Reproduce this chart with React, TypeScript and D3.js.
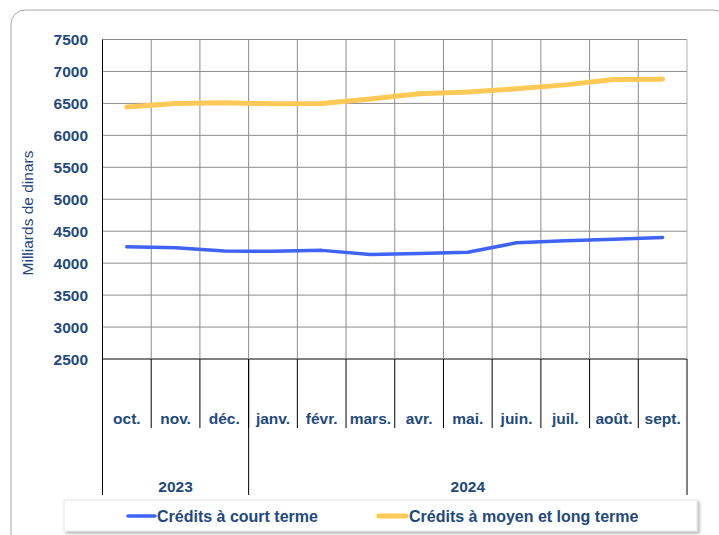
import React from "react";
import * as d3 from "d3";

const months = ["oct.", "nov.", "déc.", "janv.", "févr.", "mars.", "avr.", "mai.", "juin.", "juil.", "août.", "sept."];
const years = [
  { label: "2023", from: 0, to: 3 },
  { label: "2024", from: 3, to: 12 },
];
const courtTerme = [4255, 4240, 4190, 4185, 4200, 4136, 4150, 4170, 4318, 4349, 4375, 4401];
const moyenLongTerme = [6445, 6500, 6510, 6495, 6500, 6570, 6652, 6677, 6728, 6790, 6875, 6878];
const yTicks = [2500, 3000, 3500, 4000, 4500, 5000, 5500, 6000, 6500, 7000, 7500];

const TEXT = "#1F497D";
const FONT = "Liberation Sans, Arial, sans-serif";

export default function App() {
  const W = 719, H = 535;
  const left = 102.5, right = 687, top = 39.5, bottom = 359;
  const x = d3.scaleBand<number>().domain(d3.range(months.length)).range([left, right]);
  const y = d3.scaleLinear().domain([2500, 7500]).range([bottom, top]);
  const line = d3
    .line<number>()
    .x((_, i) => (x(i) as number) + x.bandwidth() / 2)
    .y((d) => y(d));
  const bw = x.bandwidth();

  return (
    <svg width={W} height={H} style={{ position: "absolute", left: 0, top: 0 }} fontFamily={FONT}>
      <defs>
        <filter id="sh" x="-5%" y="-30%" width="110%" height="160%">
          <feDropShadow dx="2" dy="2" stdDeviation="1.5" floodColor="#000" floodOpacity="0.3" />
        </filter>
      </defs>
      <rect x={0} y={0} width={W} height={H} fill="#fff" />
      <rect x={11} y={10} width={716} height={538} rx={14} fill="#fff" stroke="#a6a6a6" strokeWidth={1} />
      {/* grid */}
      {yTicks.map((t) => (
        <line key={"h" + t} x1={left} x2={right} y1={y(t)} y2={y(t)} stroke={t === 2500 ? "#000" : "#8c8c8c"} strokeWidth={1} />
      ))}
      {months.map((_, i) =>
        i === 0 ? null : (
          <line key={"v" + i} x1={x(i)} x2={x(i)} y1={top} y2={bottom} stroke="#8c8c8c" strokeWidth={1} />
        )
      )}
      <line x1={right} x2={right} y1={top} y2={bottom} stroke="#b0b0b0" strokeWidth={1} />
      <line x1={left} x2={left} y1={top} y2={bottom} stroke="#000" strokeWidth={1} />
      {/* y tick labels */}
      {yTicks.map((t) => (
        <text key={"t" + t} x={88} y={y(t)} dy="0.36em" textAnchor="end" fontSize={15.5} fontWeight="bold" fill={TEXT}>
          {t}
        </text>
      ))}
      <text transform={`translate(33,213) rotate(-90)`} textAnchor="middle" fontSize={15.5} fill={TEXT}>
        Milliards de dinars
      </text>
      {/* category axis */}
      {months.map((m, i) => (
        <g key={"m" + i}>
          <line x1={x(i)} x2={x(i)} y1={bottom} y2={428} stroke="#000" strokeWidth={1} />
          <text x={(x(i) as number) + bw / 2} y={424} textAnchor="middle" fontSize={15.5} fontWeight="bold" fill={TEXT}>
            {m}
          </text>
        </g>
      ))}
      <line x1={right} x2={right} y1={bottom} y2={495} stroke="#000" strokeWidth={1} />
      {years.map((yr) => {
        const x0 = x(yr.from) as number;
        const x1 = yr.to >= months.length ? right : (x(yr.to) as number);
        return (
          <g key={yr.label}>
            <line x1={x0} x2={x0} y1={bottom} y2={495} stroke="#000" strokeWidth={1} />
            <text x={(x0 + x1) / 2} y={492} textAnchor="middle" fontSize={15.5} fontWeight="bold" fill={TEXT}>
              {yr.label}
            </text>
          </g>
        );
      })}
      {/* lines */}
      <path d={line(moyenLongTerme) || ""} fill="none" stroke="#FFC957" strokeWidth={5} strokeLinejoin="round" strokeLinecap="round" />
      <path d={line(courtTerme) || ""} fill="none" stroke="#3F63F5" strokeWidth={3.5} strokeLinejoin="round" strokeLinecap="round" />
      {/* legend */}
      <rect x={64} y={500} width={633} height={31} fill="#fff" stroke="#e6e6e6" strokeWidth={1} filter="url(#sh)" />
      <line x1={128} x2={155} y1={516} y2={516} stroke="#3F63F5" strokeWidth={3.5} strokeLinecap="round" />
      <text x={157} y={516} dy="0.36em" fontSize={16} fontWeight="bold" fill={TEXT}>
        Crédits à court terme
      </text>
      <line x1={379} x2={406} y1={516} y2={516} stroke="#FFC957" strokeWidth={5} strokeLinecap="round" />
      <text x={409} y={516} dy="0.36em" fontSize={16} fontWeight="bold" fill={TEXT}>
        Crédits à moyen et long terme
      </text>
    </svg>
  );
}
